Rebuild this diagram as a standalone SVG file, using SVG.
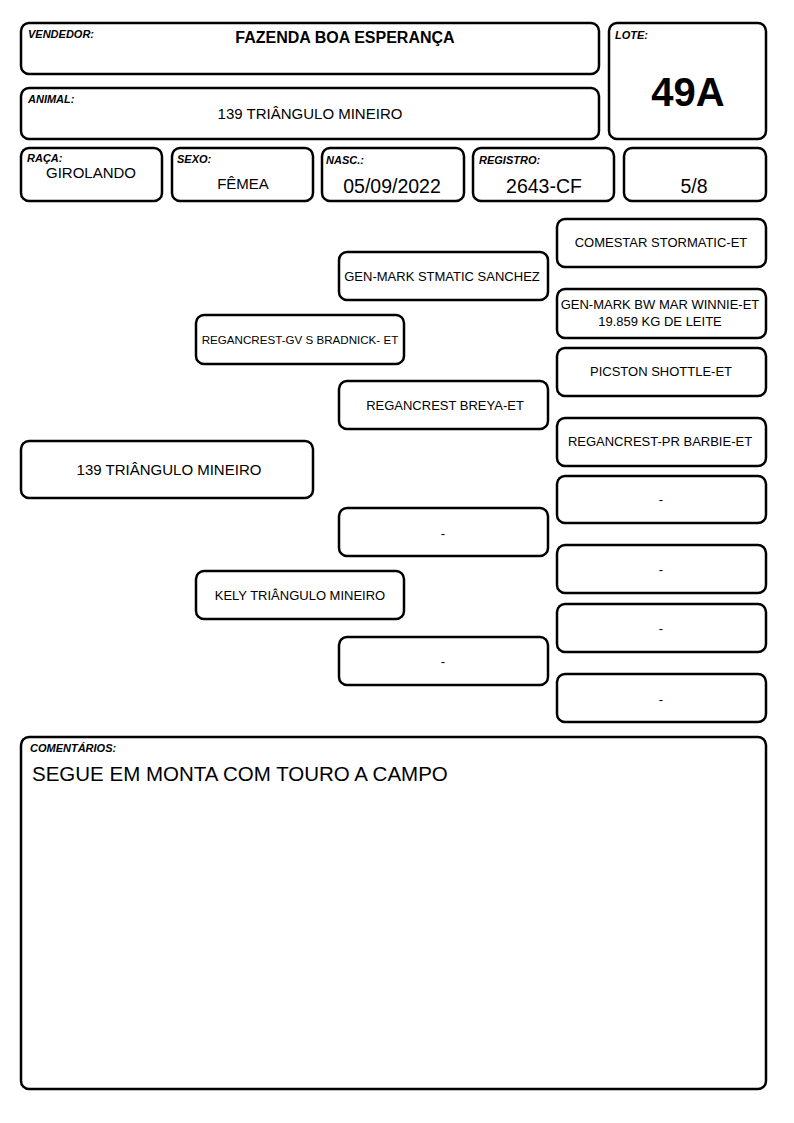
<svg xmlns="http://www.w3.org/2000/svg" width="794" height="1123" viewBox="0 0 794 1123">
<style>
rect.b{fill:#fff;stroke:#000;stroke-width:2.5}
text{font-family:"Liberation Sans",Arial,sans-serif;fill:#000}
.lb{font-size:11px;font-weight:bold;font-style:italic}
.v{font-size:15px;text-anchor:middle}
.big{font-size:19.5px}
.p{font-size:13px;text-anchor:middle}
</style>
<rect width="794" height="1123" fill="#fff"/>
<g id="vendedor"><rect class="b" x="21" y="23" width="578" height="51" rx="8"/><text class="lb" x="28" y="38">VENDEDOR:</text><text x="345" y="43" font-size="16" font-weight="bold" text-anchor="middle">FAZENDA BOA ESPERANÇA</text></g>
<g id="animal"><rect class="b" x="21" y="88" width="578" height="51" rx="8"/><text class="lb" x="28" y="103">ANIMAL:</text><text class="v" x="310" y="119">139 TRIÂNGULO MINEIRO</text></g>
<g id="lote"><rect class="b" x="609" y="23" width="157" height="116" rx="8"/><text class="lb" x="615" y="39">LOTE:</text><text x="688" y="106" font-size="40" font-weight="bold" text-anchor="middle">49A</text></g>
<g id="raca"><rect class="b" x="21" y="148" width="141" height="53" rx="8"/><text class="lb" x="27" y="162">RAÇA:</text><text class="v" x="91" y="178">GIROLANDO</text></g>
<g id="sexo"><rect class="b" x="172" y="148" width="141" height="53" rx="8"/><text class="lb" x="177" y="163">SEXO:</text><text class="v" x="243" y="189">FÊMEA</text></g>
<g id="nasc"><rect class="b" x="322" y="148" width="142" height="53" rx="8"/><text class="lb" x="326" y="164">NASC.:</text><text class="v big" x="392" y="193">05/09/2022</text></g>
<g id="registro"><rect class="b" x="473" y="148" width="141" height="53" rx="8"/><text class="lb" x="479" y="164">REGISTRO:</text><text class="v big" x="544" y="193">2643-CF</text></g>
<g id="grau"><rect class="b" x="624" y="148" width="142" height="53" rx="8"/><text class="v big" x="694" y="193">5/8</text></g>
<g id="ped-animal"><rect class="b" x="21" y="441" width="292" height="57" rx="8"/><text class="v" x="169" y="475">139 TRIÂNGULO MINEIRO</text></g>
<g id="pai"><rect class="b" x="196" y="315" width="208" height="49" rx="8"/><text class="p" x="300" y="344" style="font-size:11.6px">REGANCREST-GV S BRADNICK- ET</text></g>
<g id="mae"><rect class="b" x="196" y="571" width="208" height="48" rx="8"/><text class="p" x="300" y="600">KELY TRIÂNGULO MINEIRO</text></g>
<g id="avo-pp"><rect class="b" x="339" y="252" width="209" height="48" rx="8"/><text class="p" x="442" y="281">GEN-MARK STMATIC SANCHEZ</text></g>
<g id="avo-pm"><rect class="b" x="339" y="381" width="209" height="48" rx="8"/><text class="p" x="445" y="410">REGANCREST BREYA-ET</text></g>
<g id="avo-mp"><rect class="b" x="339" y="508" width="209" height="48" rx="8"/><text class="p" x="443" y="538">-</text></g>
<g id="avo-mm"><rect class="b" x="339" y="637" width="209" height="48" rx="8"/><text class="p" x="443" y="666">-</text></g>
<g id="bis1"><rect class="b" x="557" y="219" width="209" height="48" rx="8"/><text class="p" x="661" y="247">COMESTAR STORMATIC-ET</text></g>
<g id="bis2"><rect class="b" x="557" y="289" width="209" height="49" rx="8"/><text class="p" x="660" y="309">GEN-MARK BW MAR WINNIE-ET</text><text class="p" x="660" y="326">19.859 KG DE LEITE</text></g>
<g id="bis3"><rect class="b" x="557" y="348" width="209" height="48" rx="8"/><text class="p" x="661" y="376">PICSTON SHOTTLE-ET</text></g>
<g id="bis4"><rect class="b" x="557" y="418" width="209" height="48" rx="8"/><text class="p" x="660" y="446">REGANCREST-PR BARBIE-ET</text></g>
<g id="bis5"><rect class="b" x="557" y="476" width="209" height="47" rx="8"/><text class="p" x="661" y="504">-</text></g>
<g id="bis6"><rect class="b" x="557" y="545" width="209" height="48" rx="8"/><text class="p" x="661" y="574">-</text></g>
<g id="bis7"><rect class="b" x="557" y="604" width="209" height="48" rx="8"/><text class="p" x="661" y="633">-</text></g>
<g id="bis8"><rect class="b" x="557" y="674" width="209" height="48" rx="8"/><text class="p" x="661" y="704">-</text></g>
<g id="comentarios"><rect class="b" x="21" y="737" width="745" height="352" rx="8"/><text class="lb" x="30" y="752">COMENTÁRIOS:</text><text x="32" y="781" font-size="20.5">SEGUE EM MONTA COM TOURO A CAMPO</text></g>
<g id="connectors"></g>
</svg>
